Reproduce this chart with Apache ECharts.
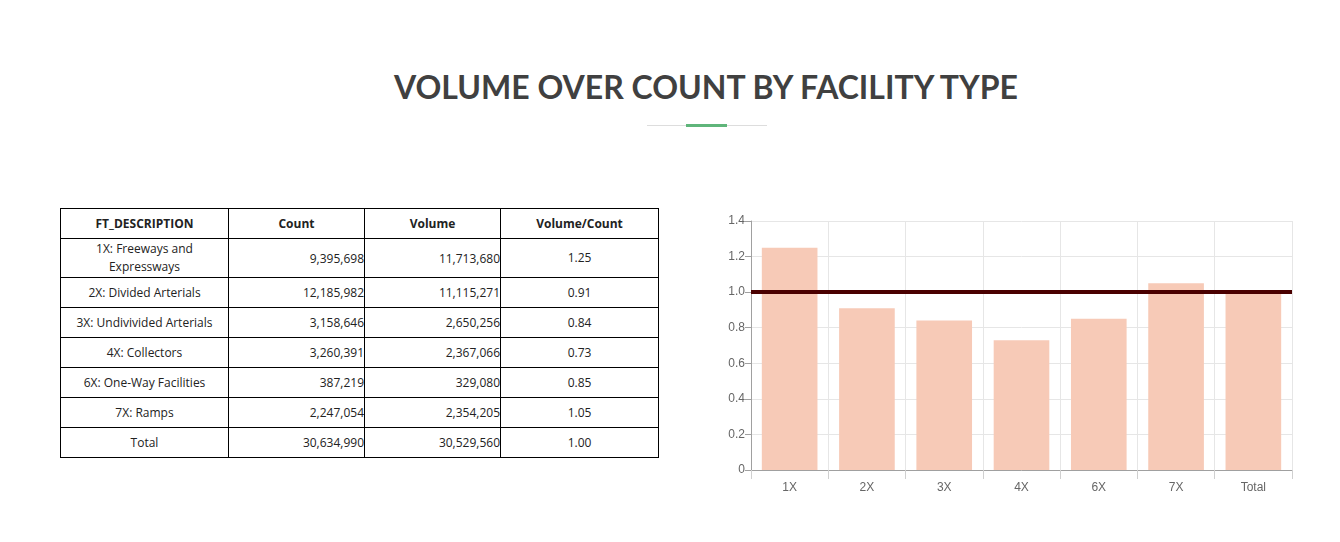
<!DOCTYPE html>
<html>
<head>
<meta charset="utf-8">
<script src="https://cdn.jsdelivr.net/npm/echarts@6/dist/echarts.min.js"></script>
<style>
	body { margin: 0; background: #fff; width: 1340px; height: 542px; position: relative; overflow: hidden; }
	#title {
		position: absolute; left: 0; width: 1412px; top: 67px; text-align: center;
		font-family: "Lato", sans-serif; font-weight: 700; font-size: 32px; color: #404040;
	}
	#divider { position: absolute; left: 647px; top: 125px; width: 120px; height: 1px; background: #ddd; }
	#divider-mark { position: absolute; left: 686px; top: 124px; width: 41px; height: 3px; background: #5fb57a; }
	#table {
		position: absolute; left: 60px; top: 208px; border-collapse: collapse;
		font-family: "Open Sans", sans-serif; font-size: 12px; color: #222;
	}
	#table td, #table th { border: 1px solid #000; padding: 0; height: 29px; }
	#table th { font-weight: 700; text-align: center; }
	#table td.num { text-align: right; }
	#table td.c { text-align: center; line-height: 18px; }
	#chart { position: absolute; left: 700px; top: 200px; width: 620px; height: 310px; }
</style>
</head>
<body>
<div id="title">VOLUME OVER COUNT BY FACILITY TYPE</div>
<div id="divider"></div>
<div id="divider-mark"></div>
<table id="table"></table>
<div id="chart"></div>
<script>
var descriptions = ["1X: Freeways and Expressways", "2X: Divided Arterials", "3X: Undivivided Arterials",
	"4X: Collectors", "6X: One-Way Facilities", "7X: Ramps", "Total"];
var counts = ["9,395,698", "12,185,982", "3,158,646", "3,260,391", "387,219", "2,247,054", "30,634,990"];
var volumes = ["11,713,680", "11,115,271", "2,650,256", "2,367,066", "329,080", "2,354,205", "30,529,560"];
var ratios = [1.25, 0.91, 0.84, 0.73, 0.85, 1.05, 1.00];
var categories = ["1X", "2X", "3X", "4X", "6X", "7X", "Total"];
var headers = ["FT_DESCRIPTION", "Count", "Volume", "Volume/Count"];
var colWidths = [167, 135, 135, 157];
var targetLine = 1.0;

// build the table
var html = "<tr>";
for (var i = 0; i < headers.length; i++) {
	html += "<th style='width:" + colWidths[i] + "px'>" + headers[i] + "</th>";
}
html += "</tr>";
for (var r = 0; r < descriptions.length; r++) {
	var desc = descriptions[r];
	var h = 29;
	if (r == 0) { desc = "1X: Freeways and<br>Expressways"; h = 39; }
	html += "<tr style='height:" + h + "px'>"
		+ "<td class='c'>" + desc + "</td>"
		+ "<td class='num'>" + counts[r] + "</td>"
		+ "<td class='num'>" + volumes[r] + "</td>"
		+ "<td class='c'>" + ratios[r].toFixed(2) + "</td>"
		+ "</tr>";
}
document.getElementById("table").innerHTML = html;

var chart = echarts.init(document.getElementById("chart"));
chart.setOption({
	animation: false,
	grid: { left: 51, top: 21, width: 541, height: 249 },
	xAxis: {
		type: "category",
		data: categories,
		axisLine: { lineStyle: { color: "#a0a0a0" } },
		axisTick: { show: true, length: 9, lineStyle: { color: "#d0d0d0" } },
		axisLabel: { color: "#666", fontSize: 12, fontFamily: "Liberation Sans, Arial", margin: 12 },
		splitLine: { show: true, lineStyle: { color: "#e6e6e6" } }
	},
	yAxis: {
		type: "value",
		min: 0,
		max: 1.4,
		interval: 0.2,
		axisLine: { show: true, lineStyle: { color: "#a0a0a0" } },
		axisTick: { show: true, length: 6, lineStyle: { color: "#a0a0a0" } },
		axisLabel: {
			color: "#666", fontSize: 12, fontFamily: "Liberation Sans, Arial", margin: 6,
			formatter: function (v) { return v === 0 ? "0" : v.toFixed(1); }
		},
		splitLine: { show: true, lineStyle: { color: "#e6e6e6" } }
	},
	series: [{
		type: "bar",
		data: ratios,
		barWidth: "72%",
		itemStyle: { color: "#f7cab7" },
		markLine: {
			silent: true,
			symbol: "none",
			label: { show: false },
			lineStyle: { color: "#4a0000", width: 4, type: "solid" },
			data: [{ yAxis: targetLine }]
		}
	}]
});
</script>
</body>
</html>
